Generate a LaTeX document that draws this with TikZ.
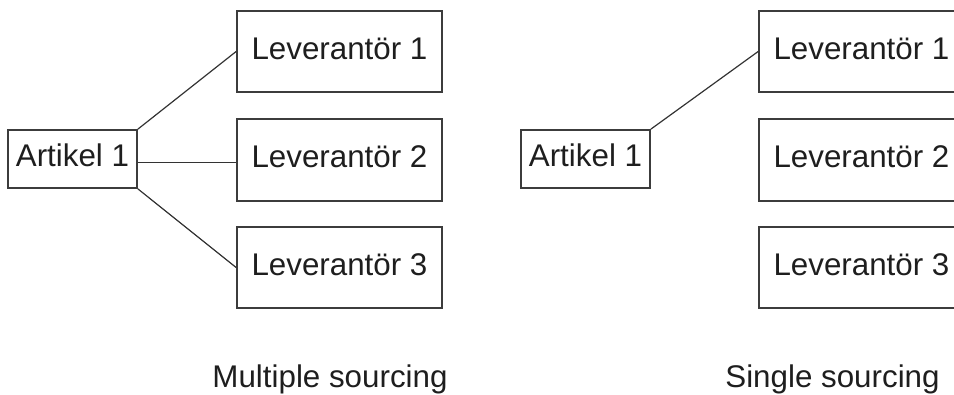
\documentclass[tikz,border=0pt]{standalone}
\usepackage{fontspec}
\setmainfont{Liberation Sans}
\definecolor{boxgray}{HTML}{3C3C3C}
\definecolor{linegray}{HTML}{333333}
\definecolor{textblack}{HTML}{1E1E1E}
\begin{document}
\begin{tikzpicture}[x=0.75pt,y=-0.75pt,
  box/.style={draw=boxgray, line width=1.3pt, inner sep=0pt, text=textblack,
    font=\fontsize{23.5}{28}\selectfont, text height=16.9pt, text depth=5.25pt},
  artbox/.style={box, minimum width=96.75pt, minimum height=43.5pt},
  levbox/.style={box, minimum width=153.75pt, minimum height=61pt},
  link/.style={draw=linegray, line width=0.9pt},
  caption/.style={anchor=base, inner sep=0pt, text=textblack,
    font=\fontsize{23.5}{28}\selectfont}]
\clip (0,0) rectangle (954,394);

% Multiple sourcing: one article, three suppliers
\node[artbox] (a1) at (72.5,159) {Artikel 1};
\node[levbox] (m1) at (339.5,51.5) {Leverantör 1};
\node[levbox] (m2) at (339.5,160) {Leverantör 2};
\node[levbox] (m3) at (339.5,267.5) {Leverantör 3};
\draw[link] (a1.north east) -- (m1.west);
\draw[link] ([yshift=-2.8pt]a1.east) -- ([yshift=-2.8pt]a1.east -| m2.west);
\draw[link] (a1.south east) -- (m3.west);
\node[caption] (cap1) at (330,387) {Multiple sourcing};

% Single sourcing: one article, one supplier
\node[artbox] (a2) at (585.5,159) {Artikel 1};
\node[levbox] (s1) at (861.5,51.5) {Leverantör 1};
\node[levbox] (s2) at (861.5,160) {Leverantör 2};
\node[levbox] (s3) at (861.5,267.5) {Leverantör 3};
\draw[link] (a2.north east) -- (s1.west);
\node[caption] (cap2) at (832.5,387) {Single sourcing};
\end{tikzpicture}
\end{document}
